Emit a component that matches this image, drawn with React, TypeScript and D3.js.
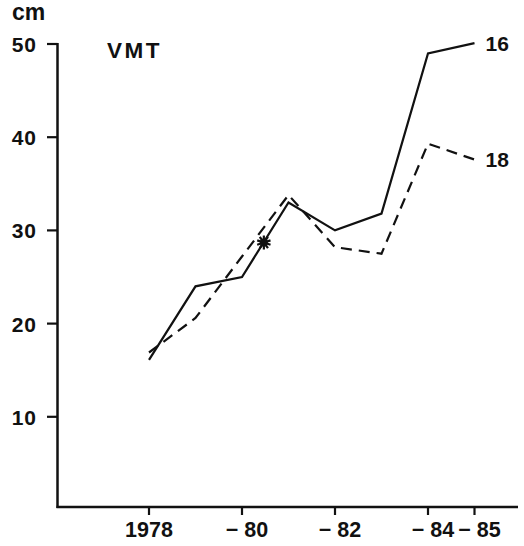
import React from "react";
import * as d3 from "d3";

// Yearly values (cm) for the two series
const years = [1978, 1979, 1980, 1981, 1982, 1983, 1984, 1985];
const series16 = [16.1, 24.0, 25.0, 33.0, 30.0, 31.8, 49.0, 50.1];
const series18 = [16.9, 20.6, 27.2, 33.8, 28.2, 27.5, 39.3, 37.6];
const seriesNames = ["16", "18"];

// Marked observation on the solid line
const markYear = 1980.47;
const markValue = 28.7;

// Axis ticks
const yTicks = [10, 20, 30, 40, 50];
const xTicks = [1978, 1980, 1982, 1984, 1985];
const xTickLabels = ["1978", "\u2212 80", "\u2212 82", "\u2212 84", "\u2212 85"];

const W = 524;
const H = 546;
const INK = "#111";
const FONT = "'Liberation Sans', Arial, Helvetica, sans-serif";

export default function App() {
  const x = d3.scaleLinear().domain([1978, 1985]).range([149, 474.5]);
  const y = d3.scaleLinear().domain([0, 50]).range([510, 44]);

  const axisX = 57.5;
  const axisY = 507;
  const axisRight = 518;

  const line = d3
    .line<number>()
    .x((_, i) => x(years[i]))
    .y((d) => y(d));

  const mx = x(markYear);
  const my = y(markValue);
  const rays = d3.range(10).map((k) => (k * Math.PI) / 5 + Math.PI / 10);

  const ends = [series16, series18].map((s) => s[s.length - 1]);

  return (
    <svg
      width={W}
      height={H}
      style={{ position: "absolute", left: 0, top: 0, background: "#fff" }}
      fontFamily={FONT}
    >
      <rect width={W} height={H} fill="#fff" />

      {/* unit label and panel title */}
      <text x={12} y={20} fontSize={23} fontWeight={700} fill={INK}>
        cm
      </text>
      <text x={107} y={58} fontSize={22.5} fontWeight={700} letterSpacing={2.5} fill={INK}>
        VMT
      </text>

      {/* y axis */}
      <line x1={axisX} x2={axisX} y1={y(50) - 1} y2={axisY + 1} stroke={INK} strokeWidth={2.5} />
      {yTicks.map((t) => (
        <g key={t}>
          <line x1={47} x2={axisX} y1={y(t)} y2={y(t)} stroke={INK} strokeWidth={2.2} />
          <text
            x={37}
            y={y(t)}
            dy="0.38em"
            textAnchor="end"
            fontSize={21}
            fontWeight={700}
            letterSpacing={1}
            fill={INK}
          >
            {t}
          </text>
        </g>
      ))}

      {/* x axis */}
      <line x1={axisX - 1} x2={axisRight} y1={axisY} y2={axisY} stroke={INK} strokeWidth={2.5} />
      {xTicks.map((t, i) => (
        <g key={t}>
          <line x1={x(t)} x2={x(t)} y1={axisY} y2={axisY + 8} stroke={INK} strokeWidth={2.2} />
          <text
            x={x(t) + (i === 0 ? 0 : 5)}
            y={537}
            textAnchor="middle"
            fontSize={21.5}
            fontWeight={700}
            fill={INK}
          >
            {xTickLabels[i]}
          </text>
        </g>
      ))}

      {/* series lines */}
      <path d={line(series16) ?? ""} fill="none" stroke={INK} strokeWidth={2.2} strokeLinejoin="miter" />
      <path
        d={line(series18) ?? ""}
        fill="none"
        stroke={INK}
        strokeWidth={2.2}
        strokeDasharray="11,7"
        strokeLinejoin="miter"
      />

      {/* asterisk marker */}
      <g>
        {rays.map((a, k) => (
          <line
            key={k}
            x1={mx}
            y1={my}
            x2={mx + Math.cos(a) * 7}
            y2={my + Math.sin(a) * 7}
            stroke={INK}
            strokeWidth={2.2}
          />
        ))}
        <circle cx={mx} cy={my} r={4} fill={INK} />
      </g>

      {/* series end labels */}
      {ends.map((v, i) => (
        <text
          key={seriesNames[i]}
          x={x(1985) + 11}
          y={y(v)}
          dy="0.36em"
          fontSize={21}
          fontWeight={700}
          fill={INK}
        >
          {seriesNames[i]}
        </text>
      ))}
    </svg>
  );
}
